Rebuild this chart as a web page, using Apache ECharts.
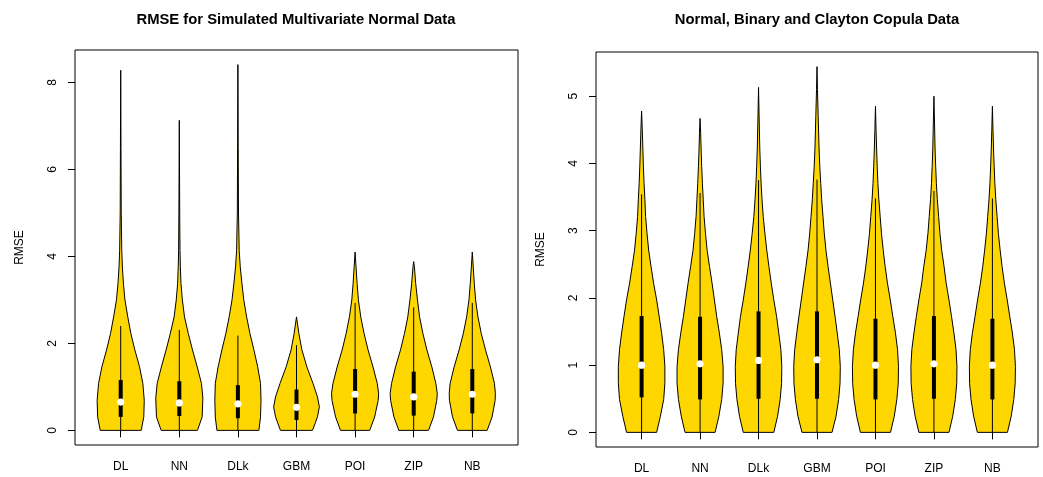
<!DOCTYPE html>
<html>
<head>
<meta charset="utf-8">
<title>RMSE violin plots</title>
<script src="https://cdn.jsdelivr.net/npm/echarts@6/dist/echarts.min.js"></script>
<style>
  html, body { margin: 0; padding: 0; background: #fff; }
  #chart { width: 1043px; height: 477px; }
</style>
</head>
<body>
<div id="chart"></div>
<script>
const categories = ["DL", "NN", "DLk", "GBM", "POI", "ZIP", "NB"];

// left panel: simulated multivariate normal data
// each violin is a list of [RMSE, relative density], from min to max
const mvnShapes = [
  [[0, 0.87], [0.31, 0.98], [0.69, 1.0], [1.08, 0.94], [1.46, 0.8], [1.85, 0.6], [2.23, 0.43], [2.61, 0.3], [3.0, 0.18], [3.38, 0.115], [3.76, 0.07], [4.14, 0.045], [5.0, 0.022], [6.5, 0.012], [8.28, 0]],
  [[0, 0.77], [0.31, 0.97], [0.74, 1.0], [1.08, 0.94], [1.46, 0.76], [1.85, 0.56], [2.23, 0.38], [2.61, 0.22], [3.0, 0.13], [3.38, 0.07], [3.76, 0.045], [4.14, 0.03], [5.0, 0.017], [7.13, 0]],
  [[0, 0.89], [0.31, 0.96], [0.69, 0.98], [1.08, 0.96], [1.46, 0.84], [1.85, 0.68], [2.23, 0.51], [2.61, 0.37], [3.0, 0.25], [3.38, 0.17], [3.76, 0.1], [4.14, 0.055], [5.0, 0.025], [6.5, 0.013], [8.41, 0]],
  [[0, 0.68], [0.16, 0.79], [0.31, 0.89], [0.54, 0.97], [0.77, 0.89], [1.08, 0.7], [1.46, 0.44], [1.85, 0.23], [2.23, 0.1], [2.61, 0]],
  [[0, 0.62], [0.31, 0.83], [0.69, 0.98], [0.85, 1.0], [1.08, 0.94], [1.46, 0.76], [1.85, 0.55], [2.23, 0.38], [2.61, 0.24], [3.0, 0.14], [3.38, 0.085], [3.76, 0.04], [4.1, 0]],
  [[0, 0.63], [0.31, 0.84], [0.69, 0.98], [0.85, 1.0], [1.08, 0.94], [1.46, 0.77], [1.85, 0.56], [2.23, 0.39], [2.61, 0.25], [3.0, 0.16], [3.38, 0.085], [3.76, 0.03], [3.88, 0]],
  [[0, 0.63], [0.31, 0.84], [0.69, 0.97], [0.85, 0.98], [1.08, 0.94], [1.46, 0.77], [1.85, 0.56], [2.23, 0.38], [2.61, 0.24], [3.0, 0.14], [3.38, 0.085], [3.76, 0.04], [4.1, 0]],
];
const mvnLower = [0, 0, 0, 0, 0, 0, 0];
const mvnQ1 = [0.31, 0.33, 0.28, 0.24, 0.39, 0.34, 0.39];
const mvnMedian = [0.65, 0.63, 0.61, 0.53, 0.83, 0.77, 0.83];
const mvnQ3 = [1.16, 1.13, 1.04, 0.94, 1.41, 1.35, 1.41];
const mvnUpper = [2.4, 2.31, 2.18, 1.96, 2.93, 2.83, 2.93];
const mvnTicks = [0, 2, 4, 6, 8];

// right panel: normal, binary and clayton copula data
const copulaShapes = [
  [[0, 0.64], [0.24, 0.8], [0.49, 0.94], [0.73, 0.99], [0.98, 0.99], [1.23, 0.94], [1.48, 0.85], [1.72, 0.75], [1.97, 0.64], [2.22, 0.51], [2.47, 0.4], [2.71, 0.3], [2.96, 0.23], [3.21, 0.17], [3.46, 0.14], [3.7, 0.105], [3.95, 0.077], [4.2, 0.055], [4.5, 0.03], [4.78, 0]],
  [[0, 0.64], [0.24, 0.8], [0.49, 0.92], [0.73, 0.98], [0.98, 0.98], [1.23, 0.92], [1.48, 0.82], [1.72, 0.71], [1.97, 0.61], [2.22, 0.51], [2.47, 0.4], [2.71, 0.3], [2.96, 0.23], [3.21, 0.17], [3.46, 0.135], [3.7, 0.1], [3.95, 0.07], [4.2, 0.045], [4.45, 0.025], [4.67, 0]],
  [[0, 0.65], [0.24, 0.81], [0.49, 0.92], [0.73, 0.98], [0.98, 0.99], [1.23, 0.95], [1.48, 0.86], [1.72, 0.77], [1.97, 0.65], [2.22, 0.54], [2.47, 0.44], [2.71, 0.35], [2.96, 0.27], [3.21, 0.2], [3.46, 0.15], [3.7, 0.11], [3.95, 0.08], [4.2, 0.055], [4.6, 0.03], [5.13, 0]],
  [[0, 0.64], [0.24, 0.81], [0.49, 0.92], [0.73, 0.98], [0.98, 0.99], [1.23, 0.95], [1.48, 0.86], [1.72, 0.77], [1.97, 0.67], [2.22, 0.57], [2.47, 0.47], [2.71, 0.38], [2.96, 0.31], [3.21, 0.255], [3.46, 0.2], [3.7, 0.16], [3.95, 0.12], [4.2, 0.09], [4.7, 0.05], [5.1, 0.02], [5.44, 0]],
  [[0, 0.64], [0.24, 0.8], [0.49, 0.91], [0.73, 0.97], [0.98, 0.98], [1.23, 0.94], [1.48, 0.85], [1.72, 0.74], [1.97, 0.63], [2.22, 0.51], [2.47, 0.41], [2.71, 0.33], [2.96, 0.255], [3.21, 0.2], [3.46, 0.145], [3.7, 0.105], [3.95, 0.075], [4.2, 0.05], [4.5, 0.025], [4.85, 0]],
  [[0, 0.64], [0.24, 0.8], [0.49, 0.91], [0.73, 0.97], [0.98, 0.98], [1.23, 0.94], [1.48, 0.85], [1.72, 0.75], [1.97, 0.64], [2.22, 0.52], [2.47, 0.43], [2.71, 0.33], [2.96, 0.255], [3.21, 0.2], [3.46, 0.145], [3.7, 0.105], [3.95, 0.075], [4.2, 0.05], [4.6, 0.025], [5.0, 0]],
  [[0, 0.64], [0.24, 0.8], [0.49, 0.91], [0.73, 0.97], [0.98, 0.98], [1.23, 0.94], [1.48, 0.85], [1.72, 0.74], [1.97, 0.63], [2.22, 0.51], [2.47, 0.41], [2.71, 0.33], [2.96, 0.255], [3.21, 0.2], [3.46, 0.145], [3.7, 0.105], [3.95, 0.075], [4.2, 0.05], [4.5, 0.025], [4.85, 0]],
];
const copulaLower = [0, 0, 0, 0, 0, 0, 0];
const copulaQ1 = [0.52, 0.49, 0.5, 0.5, 0.49, 0.5, 0.49];
const copulaMedian = [1.0, 1.02, 1.07, 1.08, 1.0, 1.02, 1.0];
const copulaQ3 = [1.73, 1.72, 1.8, 1.8, 1.69, 1.73, 1.69];
const copulaUpper = [3.54, 3.56, 3.75, 3.76, 3.48, 3.59, 3.48];
const copulaTicks = [0, 1, 2, 3, 4, 5];

const WEX = 0.402; // half width of the widest violin in x units
const FILL = "#ffd700";
const FONT = "'Liberation Sans', Arial, sans-serif";
const positions = categories.map((c, i) => i + 1);

// R style axis range: data range padded by 4 %
function padRange(lo, hi) {
  const pad = (hi - lo) * 0.04;
  return [lo - pad, hi + pad];
}

function xAxisFor(gridIndex) {
  const r = padRange(0.5, categories.length + 0.5);
  return {
    gridIndex: gridIndex,
    type: "value",
    min: r[0],
    max: r[1],
    axisLine: { show: false },
    splitLine: { show: false },
    axisTick: {
      customValues: positions,
      length: 7,
      lineStyle: { color: "#000", width: 1 },
    },
    axisLabel: {
      customValues: positions,
      formatter: (v) => categories[Math.round(v) - 1],
      margin: 16,
      color: "#000",
      fontSize: 12,
      fontFamily: FONT,
    },
  };
}

function yAxisFor(gridIndex, shapes, ticks) {
  const maxVal = Math.max(...shapes.map((s) => s[s.length - 1][0]));
  const r = padRange(0, maxVal);
  return {
    gridIndex: gridIndex,
    type: "value",
    min: r[0],
    max: r[1],
    name: "RMSE",
    nameLocation: "middle",
    nameGap: 49,
    nameTextStyle: { color: "#000", fontSize: 12, fontFamily: FONT },
    axisLine: { show: false },
    splitLine: { show: false },
    axisTick: {
      customValues: ticks,
      length: 7,
      lineStyle: { color: "#000", width: 1 },
    },
    axisLabel: {
      customValues: ticks,
      rotate: 90,
      margin: 16,
      color: "#000",
      fontSize: 12,
      fontFamily: FONT,
    },
  };
}

function violinSeries(gridIndex, shapes, lower, q1, median, q3, upper) {
  return {
    type: "custom",
    xAxisIndex: gridIndex,
    yAxisIndex: gridIndex,
    silent: true,
    data: positions.map((p, i) => [p, median[i]]),
    renderItem(params, api) {
      const i = params.dataIndex;
      const x = positions[i];
      const left = [];
      const right = [];
      shapes[i].forEach(([v, d]) => {
        left.push(api.coord([x - WEX * d, v]));
        right.push(api.coord([x + WEX * d, v]));
      });
      const outline = left.concat(right.reverse());
      const cx = api.coord([x, 0])[0];
      const boxTop = api.coord([x, q3[i]])[1];
      const boxBottom = api.coord([x, q1[i]])[1];
      const med = api.coord([x, median[i]]);
      return {
        type: "group",
        children: [
          {
            type: "polygon",
            shape: { points: outline },
            style: { fill: FILL, stroke: "#000", lineWidth: 1 },
          },
          {
            type: "line",
            shape: {
              x1: cx,
              y1: api.coord([x, lower[i]])[1],
              x2: cx,
              y2: api.coord([x, upper[i]])[1],
            },
            style: { stroke: "#000", lineWidth: 1 },
          },
          {
            type: "rect",
            shape: { x: cx - 2, y: boxTop, width: 4, height: boxBottom - boxTop },
            style: { fill: "#000" },
          },
          {
            type: "circle",
            shape: { cx: med[0], cy: med[1], r: 3.6 },
            style: { fill: "#fff" },
          },
        ],
      };
    },
  };
}

const myChart = echarts.init(document.getElementById("chart"));

const option = {
  animation: false,
  backgroundColor: "#fff",
  title: [
    {
      text: "RMSE for Simulated Multivariate Normal Data",
      left: 296,
      top: 12,
      padding: 0,
      textAlign: "center",
      textStyle: { fontSize: 14.8, fontWeight: "bold", color: "#000", fontFamily: FONT },
    },
    {
      text: "Normal, Binary and Clayton Copula Data",
      left: 817,
      top: 12,
      padding: 0,
      textAlign: "center",
      textStyle: { fontSize: 14.8, fontWeight: "bold", color: "#000", fontFamily: FONT },
    },
  ],
  grid: [
    { left: 75, top: 50, width: 443, height: 395, show: true, borderColor: "#000", borderWidth: 1 },
    { left: 596, top: 52, width: 442, height: 395, show: true, borderColor: "#000", borderWidth: 1 },
  ],
  xAxis: [xAxisFor(0), xAxisFor(1)],
  yAxis: [yAxisFor(0, mvnShapes, mvnTicks), yAxisFor(1, copulaShapes, copulaTicks)],
  series: [
    violinSeries(0, mvnShapes, mvnLower, mvnQ1, mvnMedian, mvnQ3, mvnUpper),
    violinSeries(1, copulaShapes, copulaLower, copulaQ1, copulaMedian, copulaQ3, copulaUpper),
  ],
};

myChart.setOption(option);
</script>
</body>
</html>
